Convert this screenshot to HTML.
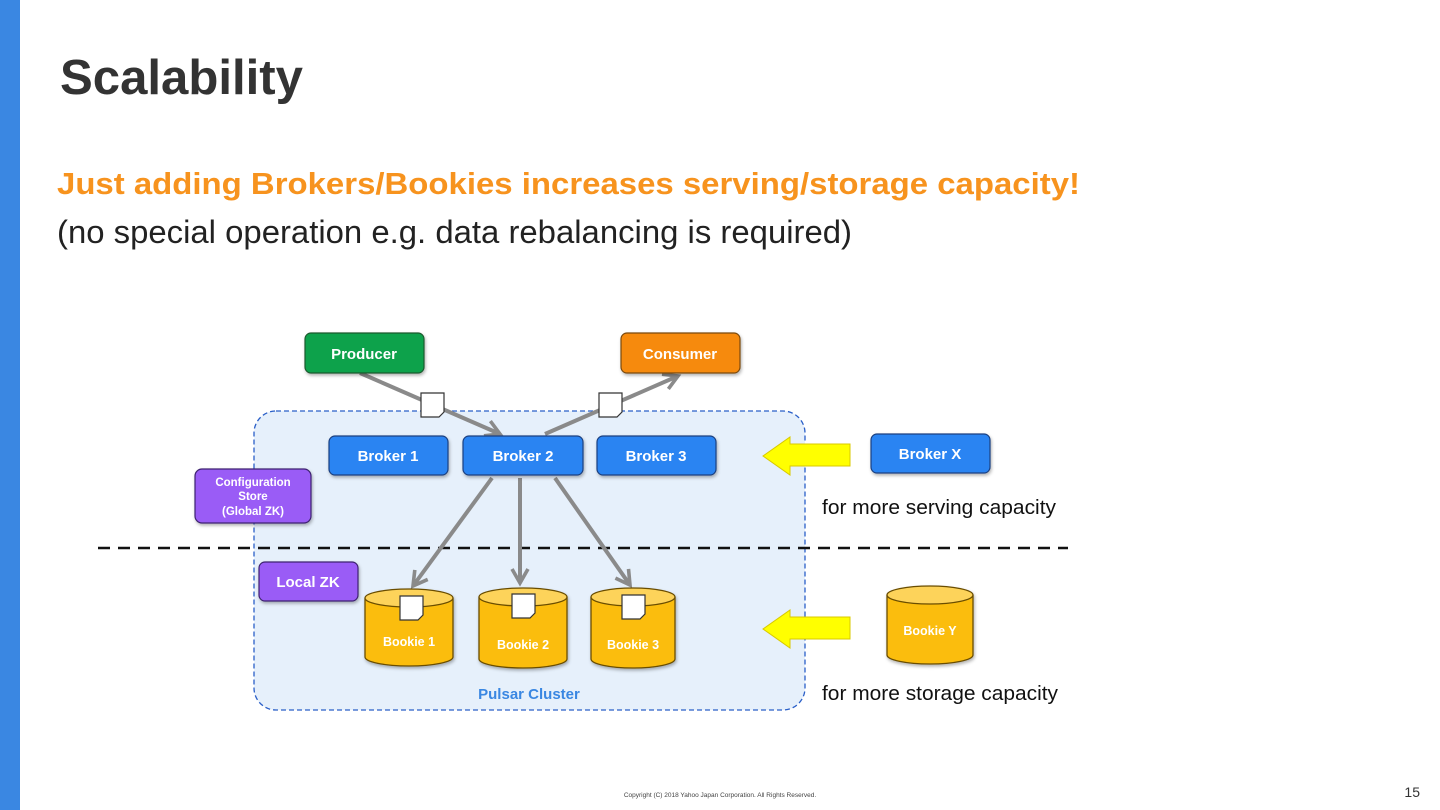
<!DOCTYPE html>
<html><head><meta charset="utf-8"><style>
html,body{margin:0;padding:0;background:#fff}
svg{display:block}
text{font-family:"Liberation Sans",Arial,sans-serif}
</style></head><body>
<svg width="1440" height="810" viewBox="0 0 1440 810" xmlns="http://www.w3.org/2000/svg">
<defs>
<marker id="ah" viewBox="0 0 10 10" refX="8" refY="5" markerWidth="5" markerHeight="5" orient="auto-start-reverse">
<path d="M1,1 L8,5 L1,9" fill="none" stroke="#8a8a8a" stroke-width="1.8"/>
</marker>
<filter id="sh" x="-10%" y="-10%" width="130%" height="140%"><feDropShadow dx="1" dy="2" stdDeviation="1.5" flood-opacity="0.3"/></filter>
</defs>
<rect x="0" y="0" width="20" height="810" fill="#3a87e2"/>
<text x="60" y="94" font-size="49" font-weight="bold" fill="#333" textLength="243" lengthAdjust="spacingAndGlyphs">Scalability</text>
<text x="57" y="194" font-size="31" font-weight="bold" fill="#f7931e" textLength="1023" lengthAdjust="spacingAndGlyphs">Just adding Brokers/Bookies increases serving/storage capacity!</text>
<text x="57" y="243" font-size="32" fill="#222" textLength="795" lengthAdjust="spacingAndGlyphs">(no special operation e.g. data rebalancing is required)</text>

<rect x="254" y="411" width="551" height="299" rx="22" fill="#e6f0fb" stroke="#2a5fc8" stroke-width="1.3" stroke-dasharray="5,3"/>
<text x="529" y="699" font-size="15" font-weight="bold" fill="#3a87e2" text-anchor="middle">Pulsar Cluster</text>

<line x1="98" y1="548" x2="1068" y2="548" stroke="#111" stroke-width="2.5" stroke-dasharray="12,8"/>

<g stroke="#8a8a8a" stroke-width="4" fill="none" marker-end="url(#ah)">
<line x1="360" y1="373" x2="500" y2="434"/>
<line x1="545" y1="434" x2="678" y2="376"/>
<line x1="492" y1="478" x2="413" y2="586"/>
<line x1="520" y1="478" x2="520" y2="583"/>
<line x1="555" y1="478" x2="630" y2="585"/>
</g>

<g filter="url(#sh)">
<rect x="305" y="333" width="119" height="40" rx="6" fill="#0ba24b" stroke="#1f5a2e" stroke-width="1.2"/>
<rect x="621" y="333" width="119" height="40" rx="6" fill="#f68a08" stroke="#7a4a10" stroke-width="1.2"/>
<rect x="329" y="436" width="119" height="39" rx="6" fill="#2a84f2" stroke="#1a3f80" stroke-width="1.2"/>
<rect x="463" y="436" width="120" height="39" rx="6" fill="#2a84f2" stroke="#1a3f80" stroke-width="1.2"/>
<rect x="597" y="436" width="119" height="39" rx="6" fill="#2a84f2" stroke="#1a3f80" stroke-width="1.2"/>
<rect x="871" y="434" width="119" height="39" rx="6" fill="#2a84f2" stroke="#1a3f80" stroke-width="1.2"/>
<rect x="195" y="469" width="116" height="54" rx="7" fill="#9a5cf6" stroke="#3e2270" stroke-width="1.2"/>
<rect x="259" y="562" width="99" height="39" rx="6" fill="#9a5cf6" stroke="#3e2270" stroke-width="1.2"/>
</g>
<g font-weight="bold" fill="#fff" text-anchor="middle">
<text x="364" y="359" font-size="15">Producer</text>
<text x="680" y="359" font-size="15">Consumer</text>
<text x="388" y="461" font-size="15">Broker 1</text>
<text x="523" y="461" font-size="15">Broker 2</text>
<text x="656" y="461" font-size="15">Broker 3</text>
<text x="930" y="459" font-size="15">Broker X</text>
<text x="253" y="486" font-size="11.5">Configuration</text>
<text x="253" y="500" font-size="11.5">Store</text>
<text x="253" y="515" font-size="11.5">(Global ZK)</text>
<text x="308" y="587" font-size="15">Local ZK</text>
</g>

<g stroke="#6b4e00" stroke-width="1.3" filter="url(#sh)">
<path d="M365,598 L365,657 A44,9 0 0 0 453,657 L453,598" fill="#fbbd0c"/>
<ellipse cx="409" cy="598" rx="44" ry="9" fill="#fdd35a"/>
<path d="M479,597 L479,659 A44,9 0 0 0 567,659 L567,597" fill="#fbbd0c"/>
<ellipse cx="523" cy="597" rx="44" ry="9" fill="#fdd35a"/>
<path d="M591,597 L591,659 A42,9 0 0 0 675,659 L675,597" fill="#fbbd0c"/>
<ellipse cx="633" cy="597" rx="42" ry="9" fill="#fdd35a"/>
<path d="M887,595 L887,655 A43,9 0 0 0 973,655 L973,595" fill="#fbbd0c"/>
<ellipse cx="930" cy="595" rx="43" ry="9" fill="#fdd35a"/>
</g>
<g font-weight="bold" fill="#fff" text-anchor="middle" font-size="12.5">
<text x="409" y="646">Bookie 1</text>
<text x="523" y="649">Bookie 2</text>
<text x="633" y="649">Bookie 3</text>
<text x="930" y="635">Bookie Y</text>
</g>

<g fill="#fff" stroke="#333" stroke-width="1.2">
<path d="M421,393 L444,393 L444,412 L439,417 L421,417 Z"/>
<path d="M599,393 L622,393 L622,412 L617,417 L599,417 Z"/>
<path d="M400,596 L423,596 L423,615 L418,620 L400,620 Z"/>
<path d="M512,594 L535,594 L535,613 L530,618 L512,618 Z"/>
<path d="M622,595 L645,595 L645,614 L640,619 L622,619 Z"/>
</g>

<g fill="#ffff00" stroke="#d8c800" stroke-width="1">
<path d="M850,444 L790,444 L790,437 L763,456 L790,475 L790,466 L850,466 Z"/>
<path d="M850,617 L790,617 L790,610 L763,629 L790,648 L790,639 L850,639 Z"/>
</g>

<text x="822" y="514" font-size="20" fill="#111" textLength="234" lengthAdjust="spacingAndGlyphs">for more serving capacity</text>
<text x="822" y="700" font-size="20" fill="#111" textLength="236" lengthAdjust="spacingAndGlyphs">for more storage capacity</text>

<text x="720" y="797" font-size="6.5" fill="#444" text-anchor="middle">Copyright (C) 2018 Yahoo Japan Corporation. All Rights Reserved.</text>
<text x="1420" y="797" font-size="14" fill="#333" text-anchor="end">15</text>
</svg>
</body></html>
